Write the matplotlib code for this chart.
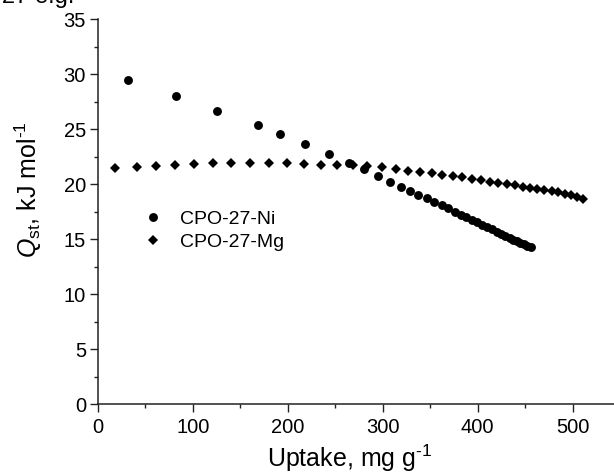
import matplotlib
matplotlib.use("Agg")
import matplotlib.pyplot as plt
from matplotlib.ticker import MultipleLocator

plt.rcParams['font.family'] = ['Liberation Sans', 'DejaVu Sans']
plt.rcParams['mathtext.fontset'] = 'custom'
plt.rcParams['mathtext.rm'] = 'Liberation Sans'
plt.rcParams['mathtext.it'] = 'Liberation Sans:italic'

# CPO-27-Ni
ni_x = [32, 82.4, 125.6, 168.4, 192.2, 218, 243, 264.5, 280, 295, 308, 319.3,
        328.8, 337.5, 346.3, 354, 362, 369, 376, 382, 388, 394, 399.5, 405, 410,
        415, 420, 424.5, 429, 433.5, 437.5, 441.5, 445, 448.5, 452, 455.8]
ni_y = [29.45, 28.0, 26.7, 25.35, 24.55, 23.65, 22.75, 21.96, 21.4, 20.75, 20.2, 19.8,
        19.42, 19.05, 18.73, 18.42, 18.12, 17.82, 17.5, 17.25, 17.0, 16.76, 16.53, 16.3, 16.1,
        15.9, 15.7, 15.52, 15.33, 15.15, 14.98, 14.82, 14.67, 14.53, 14.4, 14.27]

# CPO-27-Mg
mg_x = [18, 41, 61, 81, 101, 121, 140, 160, 180, 199, 217, 235, 252, 269, 284, 299,
        314, 327, 339, 351.6, 362.7, 373.7, 384, 394, 403.5, 413, 421.7, 430.5, 439.3,
        447.4, 455, 462.8, 470, 477.9, 484.9, 491.6, 497.9, 504.2, 510.5]
mg_y = [21.45, 21.6, 21.7, 21.8, 21.85, 21.9, 21.97, 21.97, 21.97, 21.9, 21.85, 21.8,
        21.8, 21.75, 21.66, 21.55, 21.4, 21.24, 21.12, 21.0, 20.87, 20.75, 20.64, 20.48,
        20.36, 20.24, 20.15, 20.03, 19.91, 19.78, 19.69, 19.57, 19.48, 19.36, 19.27,
        19.15, 19.03, 18.87, 18.66]

labels = ["CPO-27-Ni", "CPO-27-Mg"]

W, H = 614, 474
fig = plt.figure(figsize=(W / 100, H / 100), dpi=100)
ax_left, ax_bottom, ax_top = 97.7, 404.3, 19.3
ax = fig.add_axes([ax_left / W, (H - ax_bottom) / H, (W - ax_left) / W, (ax_bottom - ax_top) / H])
ax.patch.set_alpha(0)

ax.plot(ni_x, ni_y, linestyle='none', marker='o', markersize=6.4, color='black',
        markeredgewidth=0, label=labels[0])
ax.plot(mg_x, mg_y, linestyle='none', marker='D', markersize=5.6, color='black',
        markeredgewidth=0, label=labels[1])

ax.set_xlim(0, (W - ax_left) / 0.95)
ax.set_ylim(0, 35)
ax.xaxis.set_major_locator(MultipleLocator(100))
ax.xaxis.set_minor_locator(MultipleLocator(50))
ax.yaxis.set_major_locator(MultipleLocator(5))
ax.yaxis.set_minor_locator(MultipleLocator(2.5))

for s in ['top', 'right']:
    ax.spines[s].set_visible(False)
for s in ['left', 'bottom']:
    ax.spines[s].set_linewidth(1.1)
    ax.spines[s].set_color('#222222')

ax.tick_params(which='major', direction='out', length=6, width=1.0, labelsize=14.5,
               color='#222222')
ax.tick_params(which='minor', direction='out', length=3, width=1.0, color='#222222')
ax.tick_params(axis='x', which='major', pad=4)
ax.tick_params(axis='y', which='major', pad=2.5)

fig.text(0.5 * (ax_left + W) / W - 0.01, (H - 458) / H, r"Uptake, mg g$^{\text{-1}}$",
         ha='center', va='center', fontsize=18)
fig.text(28 / W, (H - 189.5) / H, r"$\mathit{Q}_{\mathrm{st}}$, kJ mol$^{\text{-1}}$",
         ha='center', va='center', rotation=90, fontsize=18)

fig.text(2 / W, 1 - 3 / H, "27 e.g.", ha='left', va='baseline', fontsize=17)

leg = ax.legend(loc='upper left', bbox_to_anchor=((143 - ax_left) / (W - ax_left), 0.503),
                frameon=False, fontsize=14, handlelength=1.0, handletextpad=0.9,
                labelspacing=0.25, borderpad=0, borderaxespad=0, markerscale=1.0)

fig.savefig("out.png", dpi=100)
